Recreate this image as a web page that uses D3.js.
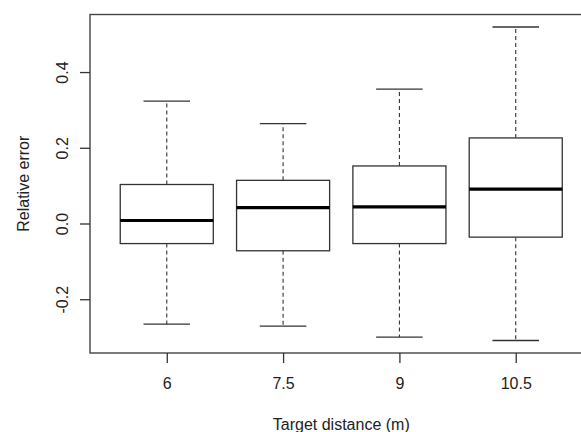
<!DOCTYPE html>
<html>
<head>
  <meta charset="utf-8">
  <script src="https://d3js.org/d3.v7.min.js"></script>
  <style>
    body { margin: 0; background: white; }
    text { font-family: "Liberation Sans", Arial, sans-serif; }
  </style>
</head>
<body>
<svg id="chart" width="581" height="432"></svg>

<script>
    // boxplot stats
    var categories = ["6", "7.5", "9", "10.5"];
    var whiskerLow = [-0.266, -0.271, -0.300, -0.309];
    var q1 = [-0.053, -0.072, -0.053, -0.036];
    var median = [0.008, 0.042, 0.044, 0.091];
    var q3 = [0.103, 0.114, 0.152, 0.226];
    var whiskerHigh = [0.323, 0.264, 0.355, 0.519];
    var yTicks = [-0.2, 0.0, 0.2, 0.4];

    var boxes = categories.map((c, i) => ({
        cat: c, pos: i + 1,
        lo: whiskerLow[i], q1: q1[i], med: median[i], q3: q3[i], hi: whiskerHigh[i]
    }));

    var svg = d3.select("#chart");
    // plot region (note: "top" is a reserved window global, so prefix these)
    var pLeft = 90, pTop = 14.5, pBottom = 353, pRight = 592.5;
    var ink = "#333";

    // R-style: xlim 0.5..n+0.5 padded 4%
    var x = d3.scaleLinear().domain([0.34, 4.66]).range([pLeft, pRight]);
    var y = d3.scaleLinear().domain([-0.342, 0.552]).range([pBottom, pTop]);

    // whiskers (dashed)
    var g = svg.append("g");
    g.selectAll(".wup").data(boxes).enter().append("line")
        .attr("x1", d => x(d.pos)).attr("x2", d => x(d.pos))
        .attr("y1", d => y(d.q3)).attr("y2", d => y(d.hi))
        .attr("stroke", ink).attr("stroke-width", 1.1).attr("stroke-dasharray", "4,3");
    g.selectAll(".wdn").data(boxes).enter().append("line")
        .attr("x1", d => x(d.pos)).attr("x2", d => x(d.pos))
        .attr("y1", d => y(d.q1)).attr("y2", d => y(d.lo))
        .attr("stroke", ink).attr("stroke-width", 1.1).attr("stroke-dasharray", "4,3");

    // staples
    g.selectAll(".shi").data(boxes).enter().append("line")
        .attr("x1", d => x(d.pos - 0.2)).attr("x2", d => x(d.pos + 0.2))
        .attr("y1", d => y(d.hi)).attr("y2", d => y(d.hi))
        .attr("stroke", ink).attr("stroke-width", 1.3);
    g.selectAll(".slo").data(boxes).enter().append("line")
        .attr("x1", d => x(d.pos - 0.2)).attr("x2", d => x(d.pos + 0.2))
        .attr("y1", d => y(d.lo)).attr("y2", d => y(d.lo))
        .attr("stroke", ink).attr("stroke-width", 1.3);

    // boxes
    g.selectAll("rect").data(boxes).enter().append("rect")
        .attr("x", d => x(d.pos - 0.4))
        .attr("width", d => x(d.pos + 0.4) - x(d.pos - 0.4))
        .attr("y", d => y(d.q3))
        .attr("height", d => y(d.q1) - y(d.q3))
        .attr("fill", "white").attr("stroke", ink).attr("stroke-width", 1.3);

    // medians
    g.selectAll(".med").data(boxes).enter().append("line")
        .attr("x1", d => x(d.pos - 0.4)).attr("x2", d => x(d.pos + 0.4))
        .attr("y1", d => y(d.med)).attr("y2", d => y(d.med))
        .attr("stroke", "black").attr("stroke-width", 3.2);

    // frame
    svg.append("rect")
        .attr("x", pLeft).attr("y", pTop)
        .attr("width", pRight - pLeft).attr("height", pBottom - pTop)
        .attr("fill", "none").attr("stroke", "#444").attr("stroke-width", 1.4);

    // y axis (plain hyphen for the minus, like R)
    var fmt = d3.format(".1f");
    var yAxis = svg.append("g")
        .attr("transform", `translate(${pLeft},0)`)
        .call(d3.axisLeft(y).tickValues(yTicks).tickSize(10)
            .tickFormat(d => fmt(d).replace("\u2212", "-")));
    yAxis.select(".domain").remove();
    yAxis.selectAll("line").attr("stroke", ink).attr("stroke-width", 1.3);
    yAxis.selectAll("text")
        .attr("x", 0).attr("dy", 0)
        .attr("transform", "translate(-22,0) rotate(-90)")
        .attr("text-anchor", "middle")
        .attr("font-size", 16).attr("fill", "#222")
        .attr("font-family", "Liberation Sans, Arial, sans-serif");

    // x axis
    var xAxis = svg.append("g")
        .attr("transform", `translate(0,${pBottom})`)
        .call(d3.axisBottom(x).tickValues(boxes.map(d => d.pos)).tickSize(10)
            .tickFormat((d, i) => categories[i]));
    xAxis.select(".domain").remove();
    xAxis.selectAll("line").attr("stroke", ink).attr("stroke-width", 1.3);
    xAxis.selectAll("text")
        .attr("y", 36).attr("dy", 0)
        .attr("font-size", 16).attr("fill", "#222")
        .attr("font-family", "Liberation Sans, Arial, sans-serif");

    // axis titles
    svg.append("text")
        .attr("x", (pLeft + pRight) / 2).attr("y", 430)
        .attr("text-anchor", "middle").attr("font-size", 16).attr("fill", "#222")
        .text("Target distance (m)");
    svg.append("text")
        .attr("transform", `translate(29,${(pTop + pBottom) / 2}) rotate(-90)`)
        .attr("text-anchor", "middle").attr("font-size", 16).attr("fill", "#222")
        .text("Relative error");
</script>
</body>
</html>
